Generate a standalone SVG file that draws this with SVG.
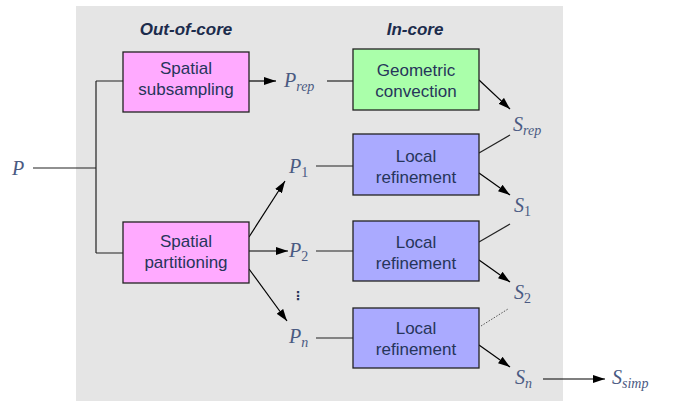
<svg xmlns="http://www.w3.org/2000/svg" width="673" height="401" viewBox="0 0 673 401">
<defs>
<marker id="ah" viewBox="0 0 12 8" refX="12" refY="4" markerWidth="12" markerHeight="8" markerUnits="userSpaceOnUse" orient="auto">
<path d="M0,0 L12,4 L0,8 Z" fill="#000"/>
</marker>
</defs>
<style>
.bg{fill:#e5e5e5}
.box{stroke:#222;stroke-width:1.3}
.pink{fill:#ffaaff}
.green{fill:#aaffaa}
.blue{fill:#aaaaff}
.bt{font-family:"Liberation Sans",Arial,sans-serif;font-size:17px;fill:#26355a;text-anchor:middle}
.hd{font-family:"Liberation Sans",Arial,sans-serif;font-size:17px;font-weight:bold;font-style:italic;fill:#1c2c4c;text-anchor:middle}
.m{font-family:"Liberation Serif","Times New Roman",serif;font-style:italic;font-size:20px;fill:#4a5a82}
.sub{font-size:14px}
.up{font-style:normal}
.ln{stroke:#222;stroke-width:1.2;fill:none}
.ar{stroke:#000;stroke-width:1.2;fill:none;marker-end:url(#ah)}
.dt{stroke:#555;stroke-width:1;stroke-dasharray:1.5 1.5;fill:none}
</style>
<rect class="bg" x="76" y="6" width="487" height="395"/>
<text class="hd" x="186" y="35">Out-of-core</text>
<text class="hd" x="415" y="35">In-core</text>

<g id="connectors">
<path class="ln" d="M33,168 H96 M96,81 V253 M96,81 H123 M96,253 H123"/>
<path class="ar" d="M249,81 H276"/>
<path class="ln" d="M327,81 H353"/>
<path class="ar" d="M249,237 L285,181"/>
<path class="ar" d="M249,251 H288"/>
<path class="ar" d="M249,269 L287,321"/>
<path class="ln" d="M316,166 H353 M316,251 H353 M316,338 H353"/>
<path class="ar" d="M479,80 L510,109"/>
<path class="ln" d="M479,153 L510,135"/>
<path class="ar" d="M479,173 L510,195"/>
<path class="ln" d="M479,242 L510,224"/>
<path class="ar" d="M479,260 L510,282"/>
<path class="dt" d="M481,326 L508,309"/>
<path class="ar" d="M479,345 L510,367"/>
<path class="ar" d="M543,379 H605"/>
</g>

<g id="subsampling"><rect class="box pink" x="123" y="52" width="126" height="60"/>
<text class="bt" x="186" y="74">Spatial</text><text class="bt" x="186" y="95">subsampling</text></g>
<g id="partitioning"><rect class="box pink" x="123" y="222" width="126" height="61"/>
<text class="bt" x="186" y="247">Spatial</text><text class="bt" x="186" y="268">partitioning</text></g>
<g id="convection"><rect class="box green" x="353" y="49" width="126" height="61"/>
<text class="bt" x="416" y="76">Geometric</text><text class="bt" x="416" y="97">convection</text></g>
<g id="refine1"><rect class="box blue" x="353" y="134" width="126" height="61"/>
<text class="bt" x="416" y="162">Local</text><text class="bt" x="416" y="183">refinement</text></g>
<g id="refine2"><rect class="box blue" x="353" y="221" width="126" height="60"/>
<text class="bt" x="416" y="248">Local</text><text class="bt" x="416" y="269">refinement</text></g>
<g id="refine3"><rect class="box blue" x="353" y="308" width="126" height="60"/>
<text class="bt" x="416" y="334">Local</text><text class="bt" x="416" y="355">refinement</text></g>

<g id="P"><text class="m" x="12" y="175">P</text></g>
<g id="Prep"><text class="m" x="284" y="87">P<tspan class="sub" dy="4">rep</tspan></text></g>
<g id="P1"><text class="m" x="289" y="173">P<tspan class="sub up" dy="4">1</tspan></text></g>
<g id="P2"><text class="m" x="289" y="257">P<tspan class="sub up" dy="4">2</tspan></text></g>
<g id="dots"><text x="298" y="300" style="font-family:'DejaVu Sans',sans-serif;font-size:12px;fill:#26355a;font-weight:bold" text-anchor="middle">⋮</text></g>
<g id="Pn"><text class="m" x="289" y="343">P<tspan class="sub" dy="4">n</tspan></text></g>
<g id="Srep"><text class="m" x="513" y="131">S<tspan class="sub" dy="4">rep</tspan></text></g>
<g id="S1"><text class="m" x="514" y="212">S<tspan class="sub up" dy="4">1</tspan></text></g>
<g id="S2"><text class="m" x="514" y="299">S<tspan class="sub up" dy="4">2</tspan></text></g>
<g id="Sn"><text class="m" x="515" y="384">S<tspan class="sub" dy="4">n</tspan></text></g>
<g id="Ssimp"><text class="m" x="612" y="384">S<tspan class="sub" dy="4">simp</tspan></text></g>
</svg>
